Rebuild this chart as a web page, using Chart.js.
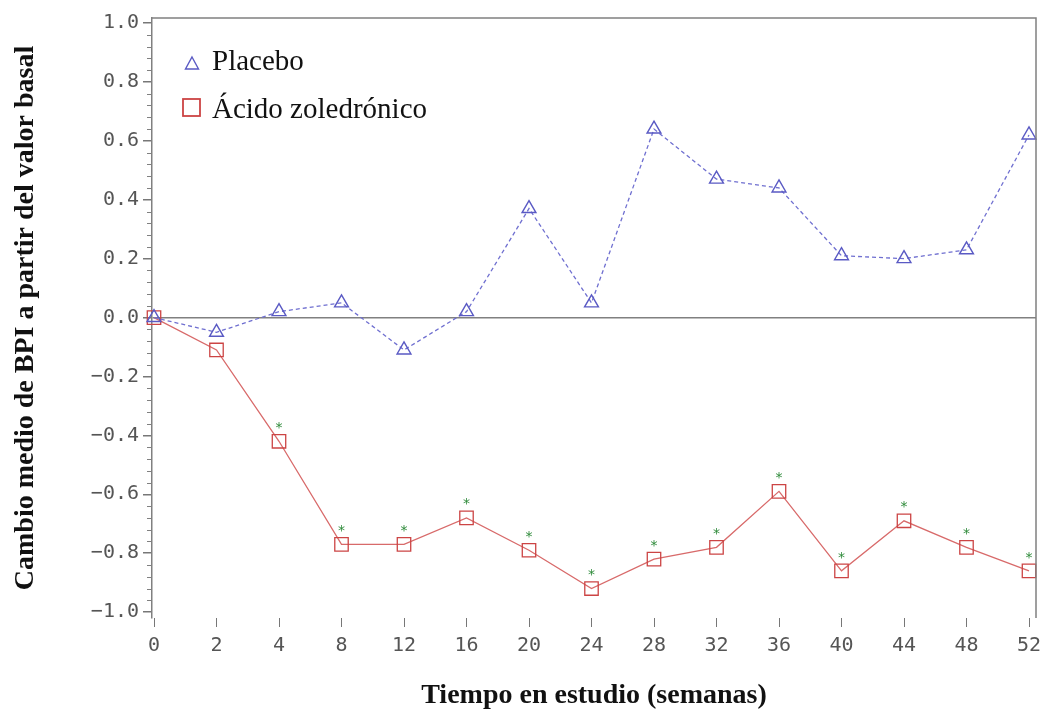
<!DOCTYPE html>
<html>
<head>
<meta charset="utf-8">
<script src="https://cdn.jsdelivr.net/npm/chart.js@4.4.1/dist/chart.umd.min.js"></script>
<style>
  html, body { margin: 0; padding: 0; background: #fff; }
</style>
</head>
<body>
<canvas id="bpi-chart" width="1043" height="715"></canvas>
<script>
let weeks = ['0', '2', '4', '8', '12', '16', '20', '24', '28', '32', '36', '40', '44', '48', '52']
let placebo = [0, -0.05, 0.02, 0.05, -0.11, 0.02, 0.37, 0.05, 0.64, 0.47, 0.44, 0.21, 0.20, 0.23, 0.62]
let zoledronico = [0, -0.11, -0.42, -0.77, -0.77, -0.68, -0.79, -0.92, -0.82, -0.78, -0.59, -0.86, -0.69, -0.78, -0.86]
// green asterisk above the point = significant vs placebo
let significant = [false, false, true, true, true, true, true, true, true, true, true, true, true, true, true]
let yTicks = [-1.0, -0.8, -0.6, -0.4, -0.2, 0.0, 0.2, 0.4, 0.6, 0.8, 1.0]
let seriesNames = ['Placebo', 'Ácido zoledrónico']
let yTitle = 'Cambio medio de BPI a partir del valor basal'
let xTitle = 'Tiempo en estudio (semanas)'

let blue = '#5a5ac4'
let red = '#cc4444'
let axisGray = '#808080'
let tickFont = { family: 'DejaVu Sans Mono', size: 20 }
let titleFont = { family: 'Liberation Serif', size: 28, weight: 'bold' }

// top/right frame, minor y ticks, asterisks and the legend inside the plot
let extras = {
    id: 'extras',
    afterDatasetsDraw(chart) {
        let ctx = chart.ctx
        let meta = chart.getDatasetMeta(1)
        ctx.save()
        ctx.fillStyle = '#2e8b3a'
        ctx.font = '14px DejaVu Sans'
        ctx.textAlign = 'center'
        ctx.textBaseline = 'middle'
        meta.data.forEach(function(pt, i) {
            if (significant[i]) ctx.fillText('*', pt.x, pt.y - 13)
        })
        ctx.restore()
    },
    afterDraw(chart) {
        let ctx = chart.ctx
        let a = chart.chartArea
        let y = chart.scales.y
        ctx.save()
        ctx.strokeStyle = axisGray
        ctx.lineWidth = 1.5
        ctx.beginPath()
        ctx.moveTo(a.left, a.top)
        ctx.lineTo(a.right, a.top)
        ctx.lineTo(a.right, a.bottom)
        ctx.stroke()

        ctx.lineWidth = 1
        ctx.beginPath()
        for (let k = -25; k <= 25; k++) {
            if (k % 5 === 0) continue
            let py = Math.round(y.getPixelForValue(k * 0.04)) + 0.5
            ctx.moveTo(a.left - 5, py)
            ctx.lineTo(a.left, py)
        }
        ctx.stroke()

        // legend
        let lx = a.left + 40
        ctx.lineWidth = 1.4
        ctx.strokeStyle = blue
        ctx.beginPath()
        ctx.moveTo(lx, a.top + 39)
        ctx.lineTo(lx + 6.5, a.top + 51)
        ctx.lineTo(lx - 6.5, a.top + 51)
        ctx.closePath()
        ctx.stroke()
        ctx.strokeStyle = red
        ctx.lineWidth = 1.8
        ctx.strokeRect(lx - 9, a.top + 81, 17, 17)

        ctx.fillStyle = '#111'
        ctx.font = '29px Liberation Serif'
        ctx.textAlign = 'left'
        ctx.textBaseline = 'alphabetic'
        ctx.fillText(seriesNames[0], lx + 20, a.top + 52)
        ctx.fillText(seriesNames[1], lx + 20, a.top + 100)
        ctx.restore()
    }
}

let chartCanvas = document.querySelector('#bpi-chart')
let bpiChart = new Chart(chartCanvas.getContext('2d'), {
    type: 'line',
    data: {
        datasets: [
            {
                label: seriesNames[0],
                data: placebo.map((v, i) => ({ x: i, y: v })),
                borderColor: '#6f6fd0',
                borderWidth: 1.3,
                borderDash: [4, 3],
                pointStyle: 'triangle',
                pointRadius: 8,
                pointBorderColor: blue,
                pointBackgroundColor: 'rgba(0,0,0,0)',
                pointBorderWidth: 1.4,
                fill: false,
                tension: 0,
                clip: false
            },
            {
                label: seriesNames[1],
                data: zoledronico.map((v, i) => ({ x: i, y: v })),
                borderColor: '#d86a6a',
                borderWidth: 1.3,
                pointStyle: 'rect',
                pointRadius: 9.5,
                pointBorderColor: red,
                pointBackgroundColor: 'rgba(0,0,0,0)',
                pointBorderWidth: 1.3,
                fill: false,
                tension: 0,
                clip: false
            }
        ]
    },
    options: {
        responsive: false,
        animation: false,
        layout: { autoPadding: false, padding: { top: 18, right: 7, left: 0, bottom: 0 } },
        plugins: { legend: { display: false }, tooltip: { enabled: false } },
        scales: {
            x: {
                type: 'linear',
                min: -0.032,
                max: 14.112,
                afterBuildTicks: s => { s.ticks = weeks.map((w, i) => ({ value: i })) },
                afterFit: s => { s.height = 97; s.paddingLeft = 0; s.paddingRight = 0 },
                border: { display: false },
                grid: { drawOnChartArea: false, drawTicks: true, tickLength: 9, tickColor: '#777', tickWidth: 1 },
                ticks: { callback: v => weeks[v], font: tickFont, color: '#555', padding: 7, maxRotation: 0, autoSkip: false },
                title: { display: true, text: xTitle, font: titleFont, color: '#111', padding: { top: 0, bottom: 2 } }
            },
            y: {
                type: 'linear',
                min: -1.02,
                max: 1.017,
                afterBuildTicks: s => { s.ticks = yTicks.map(v => ({ value: v })) },
                afterFit: s => { s.width = 152 },
                border: { display: true, color: axisGray, width: 1.5 },
                grid: {
                    drawOnChartArea: true,
                    color: c => (c.tick && Math.abs(c.tick.value) < 1e-9) ? axisGray : 'rgba(0,0,0,0)',
                    lineWidth: 1.5,
                    tickLength: 9,
                    tickColor: '#777'
                },
                ticks: {
                    callback: v => (v < 0 ? '\u2212' : '') + Math.abs(v).toFixed(1),
                    font: tickFont, color: '#555', padding: 4
                },
                title: { display: true, text: yTitle, font: titleFont, color: '#111', padding: { top: 9, bottom: 0 } }
            }
        }
    },
    plugins: [extras]
})
</script>
</body>
</html>
